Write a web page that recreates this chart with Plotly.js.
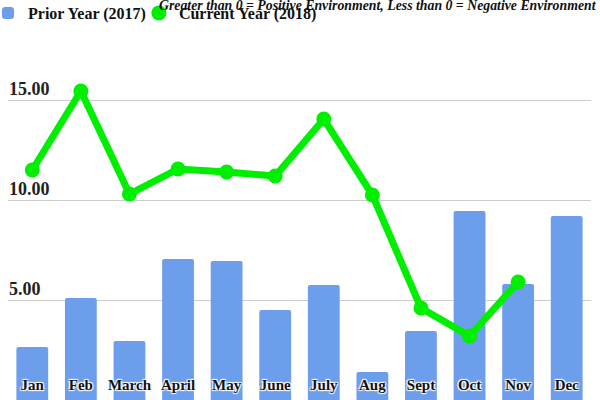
<!DOCTYPE html>
<html>
<head>
<meta charset="utf-8">
<script src="https://cdn.plot.ly/plotly-3.0.1.min.js"></script>
<style>html,body{margin:0;padding:0;background:#fff}#chart{width:600px;height:400px}</style>
</head>
<body>
<div id="chart"></div>
<script>
const months = ["Jan","Feb","March","April","May","June","July","Aug","Sept","Oct","Nov","Dec"];
const priorYear = [2.65, 5.1, 2.95, 7.05, 6.95, 4.5, 5.75, 1.4, 3.45, 9.45, 5.8, 9.2];
const currentYear = [11.5, 15.45, 10.3, 11.55, 11.4, 11.2, 14.05, 10.25, 4.6, 3.2, 5.9, null];
const yTickVals = [5, 10, 15, 20];
const yTickText = ["5.00", "10.00", "15.00", ""];
const titleText = "Greater than 0 = Positive Environment, Less than 0 = Negative Environment";

const serif = "Liberation Serif";
const green = "#00ee00";

const traces = [
  {
    type: "bar",
    name: "Prior Year (2017)",
    x: months,
    y: priorYear,
    marker: {color: "#6d9eeb"},
    hoverinfo: "skip"
  },
  {
    type: "scatter",
    mode: "lines",
    name: "Current Year (2018)",
    legendgroup: "cur",
    showlegend: false,
    x: months,
    y: currentYear,
    line: {color: green, width: 7},
    hoverinfo: "skip"
  },
  {
    type: "scatter",
    mode: "markers",
    name: "Current Year (2018)",
    legendgroup: "cur",
    x: months,
    y: currentYear,
    marker: {color: green, size: 15},
    hoverinfo: "skip"
  }
];

const layout = {
  width: 600,
  height: 400,
  margin: {l: 8, r: 9, t: 0, b: 0, pad: 0, autoexpand: false},
  paper_bgcolor: "#ffffff",
  plot_bgcolor: "#ffffff",
  bargap: 0.345,
  barcornerradius: 2,
  showlegend: true,
  title: {
    text: titleText,
    x: 159 / 600,
    xanchor: "left",
    xref: "container",
    y: 1 - 5 / 400,
    yref: "container",
    yanchor: "middle",
    font: {family: serif, size: 13.8, style: "italic", weight: "bold", color: "#111"}
  },
  legend: {
    orientation: "h",
    x: 0,
    xanchor: "left",
    xref: "container",
    y: 1.01,
    yref: "paper",
    yanchor: "top",
    indentation: -12,
    bgcolor: "rgba(0,0,0,0)",
    font: {family: serif, size: 16, weight: "bold", color: "#111"},
    itemclick: false
  },
  xaxis: {
    type: "category",
    range: [-0.5, 11.5],
    autorange: false,
    anchor: "free",
    position: 0.066,
    showgrid: false,
    showline: false,
    zeroline: false,
    ticks: "",
    tickfont: {
      family: serif, size: 15, weight: "bold", color: "#111",
      shadow: "1px 1px 1px #fff, -1px -1px 1px #fff, 1px -1px 1px #fff, -1px 1px 1px #fff"
    },
    fixedrange: true
  },
  yaxis: {
    range: [0, 20],
    autorange: false,
    side: "right",
    anchor: "free",
    position: 0,
    tickvals: yTickVals,
    ticktext: yTickText,
    showgrid: true,
    gridcolor: "#cccccc",
    gridwidth: 1,
    zeroline: false,
    showline: false,
    ticks: "",
    ticklabelshift: -11,
    ticklabelstandoff: 0,
    tickfont: {family: serif, size: 18, weight: "bold", color: "#222"},
    fixedrange: true
  }
};

Plotly.newPlot("chart", traces, layout, {displayModeBar: false, staticPlot: true});
</script>
</body>
</html>
